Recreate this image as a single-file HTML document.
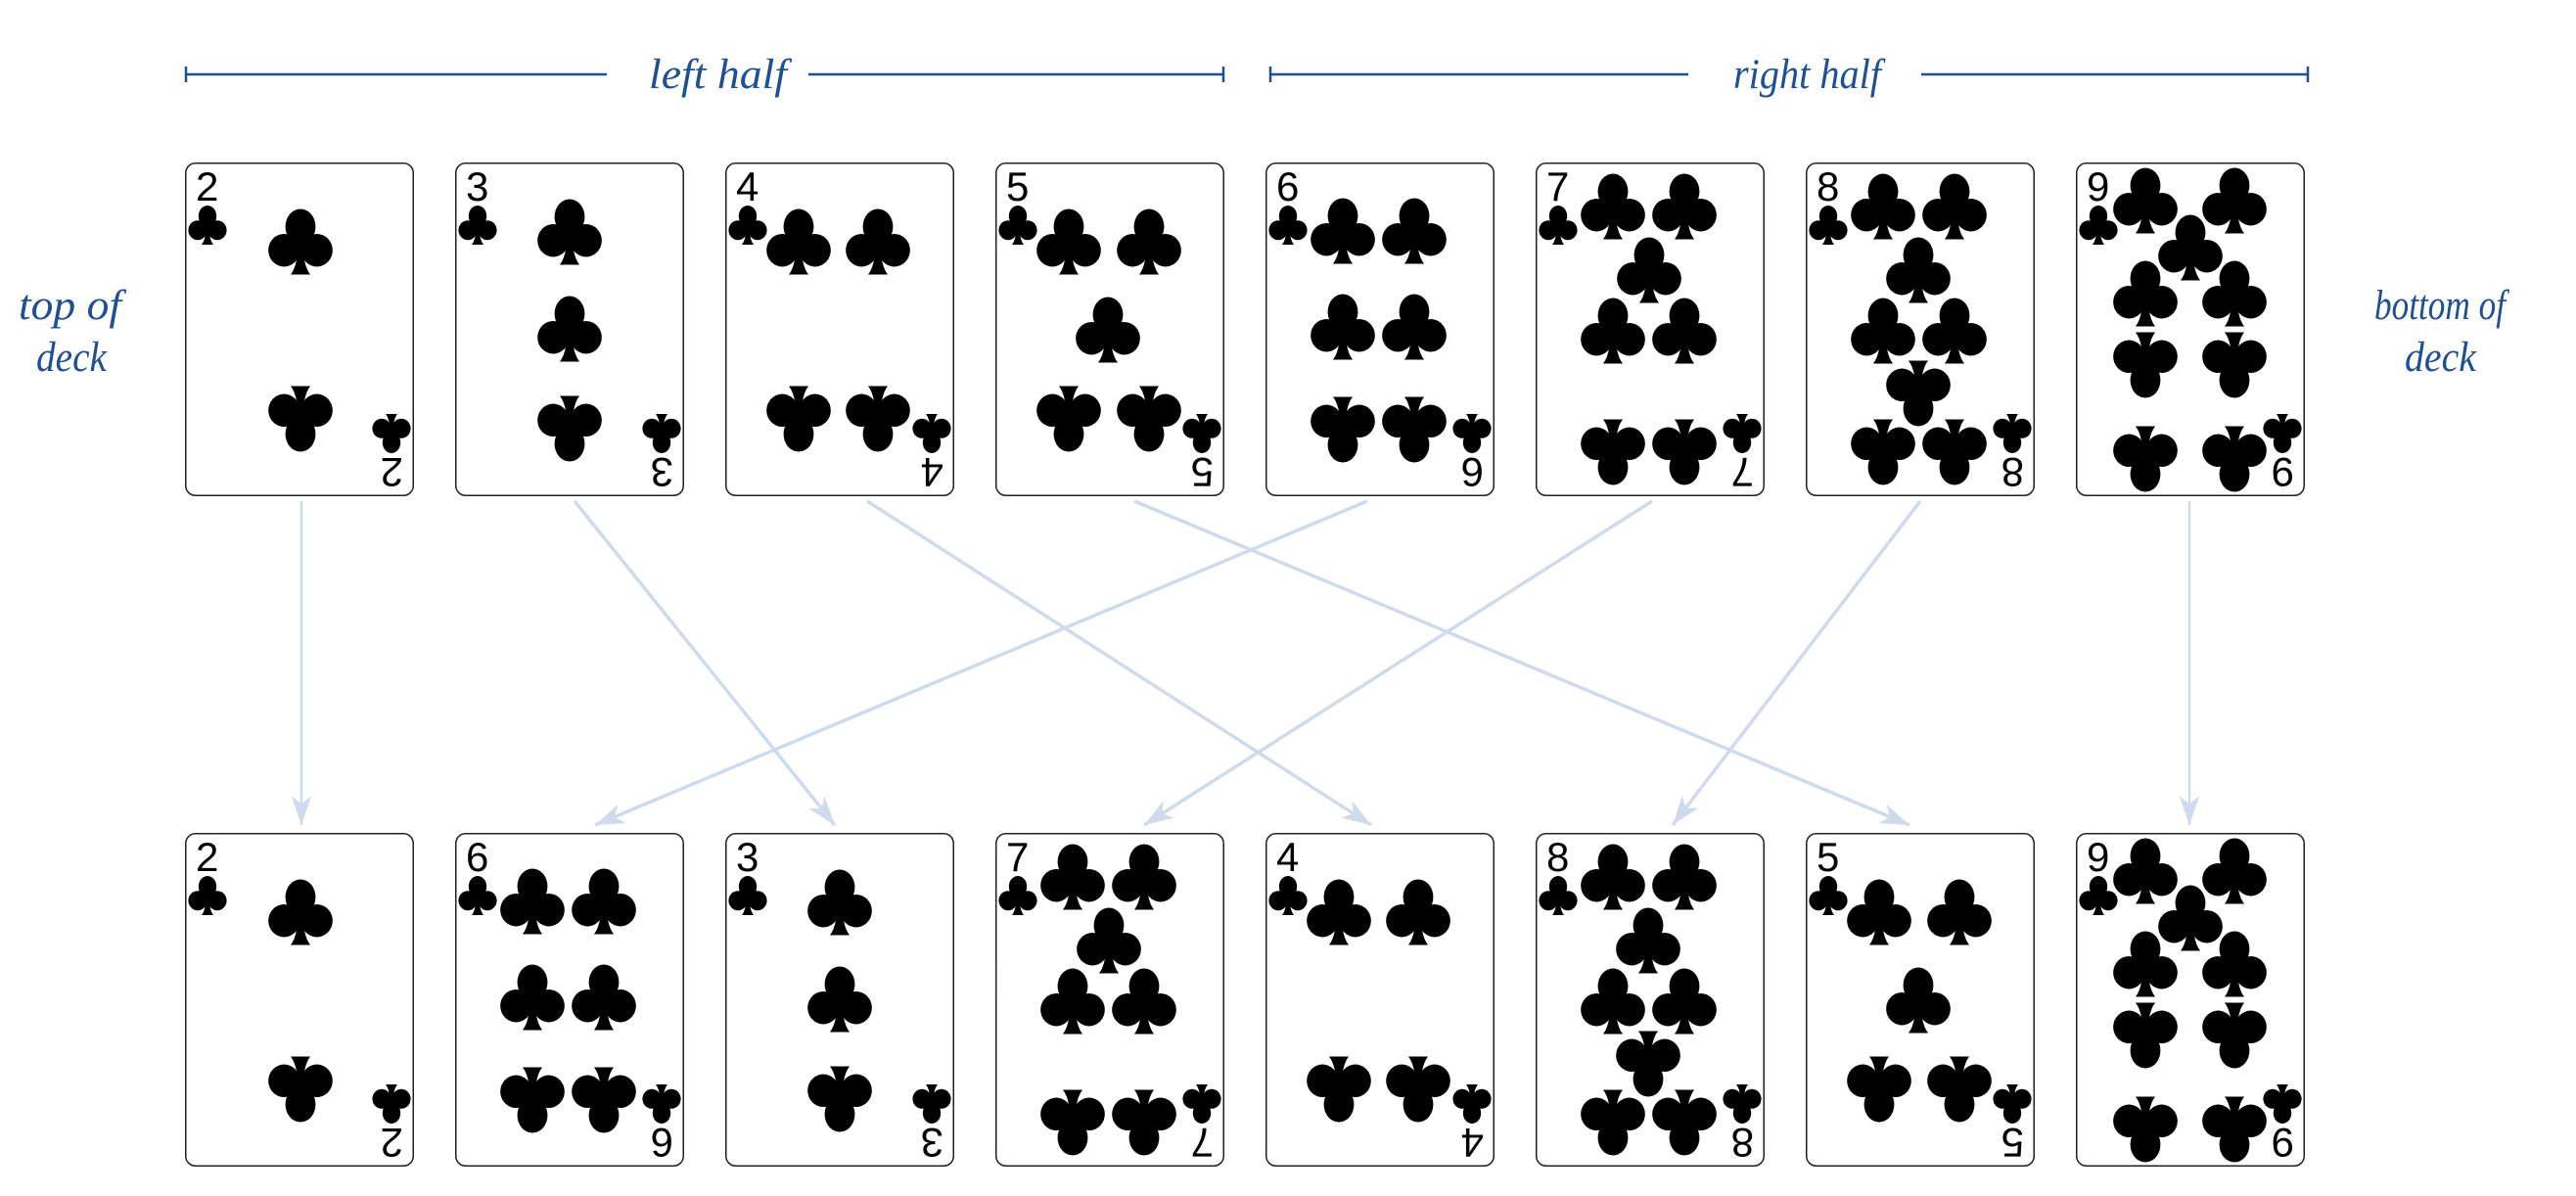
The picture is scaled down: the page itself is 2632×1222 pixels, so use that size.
<!DOCTYPE html>
<html><head><meta charset="utf-8"><style>
html,body{margin:0;padding:0;background:#fff;}
svg{display:block}
.lab{font-family:"Liberation Serif",serif;font-style:italic;fill:#1f5093;font-size:43px}
.idx{font-family:"Liberation Sans",sans-serif;font-size:42px;fill:#000}
</style></head><body>
<svg width="2632" height="1222" viewBox="0 0 2632 1222" xmlns="http://www.w3.org/2000/svg" xmlns:xlink="http://www.w3.org/1999/xlink">
<defs>
<symbol id="c" viewBox="0 0 100 100"><ellipse cx="50" cy="27" rx="23" ry="27"/><ellipse cx="25" cy="63" rx="24" ry="25"/><ellipse cx="75" cy="63" rx="24" ry="25"/><path d="M46 45 Q47 85 35 100 L65 100 Q53 85 54 45Z"/></symbol>
<marker id="ah" markerUnits="userSpaceOnUse" markerWidth="40" markerHeight="40" viewBox="-30 -15 35 30" refX="0" refY="0" orient="auto"><path d="M0,0 L-26,-9 L-19,0 L-26,9Z" fill="#cfdbec"/></marker>
<g id="box"><rect x="0.75" y="0.75" width="232.5" height="339.5" rx="10" fill="#fff" stroke="#222" stroke-width="1.5"/></g>
<g id="k2"><use href="#box"/><text class="idx" x="11" y="39">2</text><use href="#c" x="3" y="44" width="40" height="40"/><g transform="rotate(180 117 170.5)"><text class="idx" x="11" y="39">2</text><use href="#c" x="3" y="44" width="40" height="40"/></g>
<use href="#c" x="84.5" y="47.5" width="67" height="67"/><g transform="rotate(180 118 262)"><use href="#c" x="84.5" y="228.5" width="67" height="67"/></g></g>
<g id="k3"><use href="#box"/><text class="idx" x="11" y="39">3</text><use href="#c" x="3" y="44" width="40" height="40"/><g transform="rotate(180 117 170.5)"><text class="idx" x="11" y="39">3</text><use href="#c" x="3" y="44" width="40" height="40"/></g>
<use href="#c" x="83.5" y="37.5" width="67" height="67"/><use href="#c" x="83.5" y="136.5" width="67" height="67"/><g transform="rotate(180 117 272)"><use href="#c" x="83.5" y="238.5" width="67" height="67"/></g></g>
<g id="k4"><use href="#box"/><text class="idx" x="11" y="39">4</text><use href="#c" x="3" y="44" width="40" height="40"/><g transform="rotate(180 117 170.5)"><text class="idx" x="11" y="39">4</text><use href="#c" x="3" y="44" width="40" height="40"/></g>
<use href="#c" x="41.5" y="47.5" width="67" height="67"/><use href="#c" x="122.5" y="47.5" width="67" height="67"/><g transform="rotate(180 115.5 262)"><use href="#c" x="41.5" y="228.5" width="67" height="67"/><use href="#c" x="122.5" y="228.5" width="67" height="67"/></g></g>
<g id="k5"><use href="#box"/><text class="idx" x="11" y="39">5</text><use href="#c" x="3" y="44" width="40" height="40"/><g transform="rotate(180 117 170.5)"><text class="idx" x="11" y="39">5</text><use href="#c" x="3" y="44" width="40" height="40"/></g>
<use href="#c" x="41.5" y="47.5" width="67" height="67"/><use href="#c" x="123.5" y="47.5" width="67" height="67"/><use href="#c" x="81.5" y="137.5" width="67" height="67"/><g transform="rotate(180 116 262)"><use href="#c" x="41.5" y="228.5" width="67" height="67"/><use href="#c" x="123.5" y="228.5" width="67" height="67"/></g></g>
<g id="k6"><use href="#box"/><text class="idx" x="11" y="39">6</text><use href="#c" x="3" y="44" width="40" height="40"/><g transform="rotate(180 117 170.5)"><text class="idx" x="11" y="39">6</text><use href="#c" x="3" y="44" width="40" height="40"/></g>
<use href="#c" x="45.5" y="36.5" width="67" height="67"/><use href="#c" x="118.5" y="36.5" width="67" height="67"/><use href="#c" x="45.5" y="134.5" width="67" height="67"/><use href="#c" x="118.5" y="134.5" width="67" height="67"/><g transform="rotate(180 115.5 273)"><use href="#c" x="45.5" y="239.5" width="67" height="67"/><use href="#c" x="118.5" y="239.5" width="67" height="67"/></g></g>
<g id="k7"><use href="#box"/><text class="idx" x="11" y="39">7</text><use href="#c" x="3" y="44" width="40" height="40"/><g transform="rotate(180 117 170.5)"><text class="idx" x="11" y="39">7</text><use href="#c" x="3" y="44" width="40" height="40"/></g>
<use href="#c" x="45.5" y="11.5" width="67" height="67"/><use href="#c" x="118.5" y="11.5" width="67" height="67"/><use href="#c" x="82.5" y="76.5" width="67" height="67"/><use href="#c" x="45.5" y="138.5" width="67" height="67"/><use href="#c" x="118.5" y="138.5" width="67" height="67"/><g transform="rotate(180 115.5 296)"><use href="#c" x="45.5" y="262.5" width="67" height="67"/><use href="#c" x="118.5" y="262.5" width="67" height="67"/></g></g>
<g id="k8"><use href="#box"/><text class="idx" x="11" y="39">8</text><use href="#c" x="3" y="44" width="40" height="40"/><g transform="rotate(180 117 170.5)"><text class="idx" x="11" y="39">8</text><use href="#c" x="3" y="44" width="40" height="40"/></g>
<use href="#c" x="45.5" y="11.5" width="67" height="67"/><use href="#c" x="118.5" y="11.5" width="67" height="67"/><use href="#c" x="81.5" y="76.5" width="67" height="67"/><use href="#c" x="45.5" y="138.5" width="67" height="67"/><use href="#c" x="118.5" y="138.5" width="67" height="67"/><g transform="rotate(180 115 236)"><use href="#c" x="81.5" y="202.5" width="67" height="67"/></g><g transform="rotate(180 115.5 296)"><use href="#c" x="45.5" y="262.5" width="67" height="67"/><use href="#c" x="118.5" y="262.5" width="67" height="67"/></g></g>
<g id="k9"><use href="#box"/><text class="idx" x="11" y="39">9</text><use href="#c" x="3" y="44" width="40" height="40"/><g transform="rotate(180 117 170.5)"><text class="idx" x="11" y="39">9</text><use href="#c" x="3" y="44" width="40" height="40"/></g>
<use href="#c" x="37.5" y="5.5" width="67" height="67"/><use href="#c" x="128.5" y="5.5" width="67" height="67"/><use href="#c" x="83.5" y="53.5" width="67" height="67"/><use href="#c" x="37.5" y="100.5" width="67" height="67"/><use href="#c" x="128.5" y="100.5" width="67" height="67"/><g transform="rotate(180 116.5 207)"><use href="#c" x="37.5" y="173.5" width="67" height="67"/><use href="#c" x="128.5" y="173.5" width="67" height="67"/></g><g transform="rotate(180 116.5 303)"><use href="#c" x="37.5" y="269.5" width="67" height="67"/><use href="#c" x="128.5" y="269.5" width="67" height="67"/></g></g>
</defs>

<g stroke="#1f5093" stroke-width="2.5" fill="none">
<line x1="190" y1="76" x2="620" y2="76"/><line x1="826" y1="76" x2="1250" y2="76"/>
<line x1="190" y1="68" x2="190" y2="84"/><line x1="1250" y1="68" x2="1250" y2="84"/>
<line x1="1298" y1="76" x2="1725" y2="76"/><line x1="1963" y1="76" x2="2358" y2="76"/>
<line x1="1298" y1="68" x2="1298" y2="84"/><line x1="2358" y1="68" x2="2358" y2="84"/>
</g>
<text class="lab" x="663" y="90" textLength="141" lengthAdjust="spacingAndGlyphs">left half</text>
<text class="lab" x="1771" y="90" textLength="151" lengthAdjust="spacingAndGlyphs">right half</text>
<text class="lab" x="19" y="326" textLength="105" lengthAdjust="spacingAndGlyphs">top of</text>
<text class="lab" x="37" y="379" textLength="72" lengthAdjust="spacingAndGlyphs">deck</text>
<text class="lab" x="2426" y="326" textLength="134" lengthAdjust="spacingAndGlyphs">bottom of</text>
<text class="lab" x="2457" y="379" textLength="73" lengthAdjust="spacingAndGlyphs">deck</text>

<use href="#k2" x="189" y="166"/><use href="#k3" x="465" y="166"/><use href="#k4" x="741" y="166"/><use href="#k5" x="1017" y="166"/>
<use href="#k6" x="1293" y="166"/><use href="#k7" x="1569" y="166"/><use href="#k8" x="1845" y="166"/><use href="#k9" x="2121" y="166"/>
<use href="#k2" x="189" y="851"/><use href="#k6" x="465" y="851"/><use href="#k3" x="741" y="851"/><use href="#k7" x="1017" y="851"/>
<use href="#k4" x="1293" y="851"/><use href="#k8" x="1569" y="851"/><use href="#k5" x="1845" y="851"/><use href="#k9" x="2121" y="851"/>

<g stroke="#cfdbec" stroke-width="3.5" fill="none" marker-end="url(#ah)">
<line x1="308" y1="512" x2="308" y2="843" stroke-width="2.5"/>
<line x1="587" y1="512" x2="853" y2="843"/>
<line x1="886" y1="512" x2="1401" y2="843"/>
<line x1="1159" y1="512" x2="1951" y2="843"/>
<line x1="1397" y1="512" x2="608" y2="843"/>
<line x1="1688" y1="512" x2="1169" y2="843"/>
<line x1="1962" y1="512" x2="1709" y2="843"/>
<line x1="2237" y1="512" x2="2237" y2="843" stroke-width="2.5"/>
</g>
</svg>
</body></html>
